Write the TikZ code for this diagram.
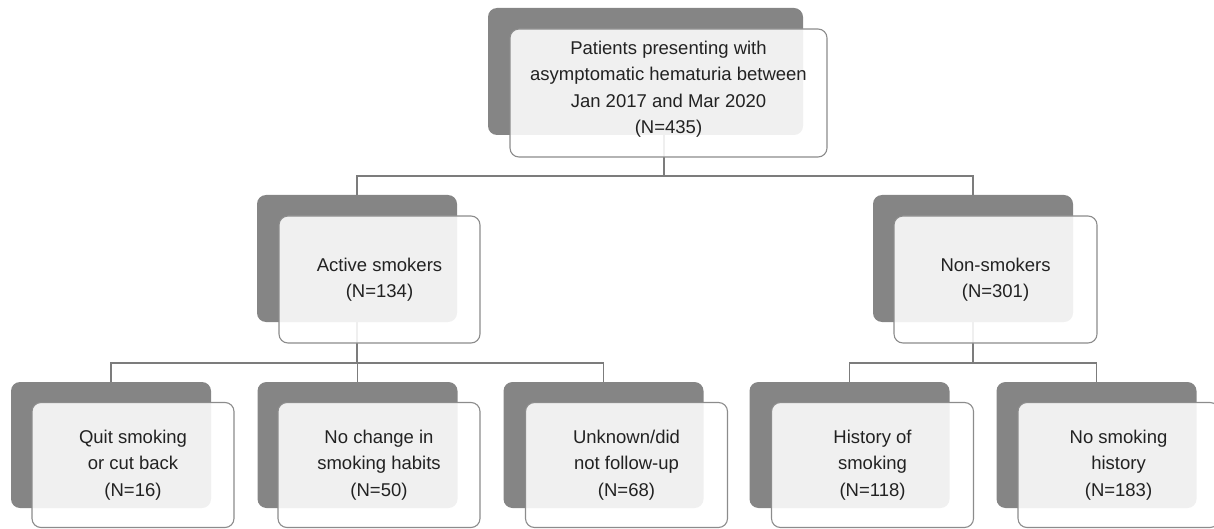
\documentclass[tikz,border=0pt]{standalone}
\usepackage{fontspec}
\setmainfont{Liberation Sans}
\definecolor{darkfill}{HTML}{858585}
\definecolor{frontline}{HTML}{8C8C8C}
\definecolor{connline}{HTML}{7C7C7C}
\definecolor{txt}{HTML}{222222}
\begin{document}
\begin{tikzpicture}[x=1pt,y=-1pt,
  darkbox/.style={rectangle, rounded corners=9pt, fill=darkfill, inner sep=0pt, minimum width=200pt, minimum height=126pt},
  frontbox/.style={rectangle, rounded corners=9pt, fill=white, fill opacity=0.88, text opacity=1, draw=frontline, line width=1.1pt, inner sep=0pt, minimum width=202pt, minimum height=125pt, align=center, text=txt, font=\fontsize{18.5}{26.5}\selectfont},
  conn/.style={draw=connline, line width=1.3pt}]
\useasboundingbox (0,0) rectangle (1214,529);

% junction coordinates
\coordinate (j0) at (664,176);
\coordinate (j1) at (357,363);
\coordinate (j2) at (973,363);

% dark boxes (positions)
\path (645.5,71.5) coordinate (topdc);
\path (357,258.5) coordinate (asdc);
\path (973,258.5) coordinate (nsdc);
\path (111,445) coordinate (qdc);
\path (357.5,445) coordinate (ncdc);
\path (603.5,445) coordinate (undc);
\path (849.5,445) coordinate (hsdc);
\path (1096.5,445) coordinate (nshdc);

% connectors (drawn first, seen through the translucent boxes)
\draw[conn] (j0 |- 0,135) -- (j0);
\draw[conn] (asdc) -- (asdc |- j0) -- (nsdc |- j0) -- (nsdc);
\draw[conn] (asdc) -- (j1);
\draw[conn] (qdc) -- (qdc |- j1) -- (undc |- j1) -- (undc);
\draw[conn] (ncdc |- j1) -- (ncdc);
\draw[conn] (nsdc) -- (j2);
\draw[conn] (hsdc) -- (hsdc |- j2) -- (nshdc |- j2) -- (nshdc);

% dark boxes
\node[darkbox, minimum width=315pt, minimum height=127pt] (topd) at (topdc) {};
\node[darkbox, minimum height=127pt] (asd) at (asdc) {};
\node[darkbox, minimum height=127pt] (nsd) at (nsdc) {};
\node[darkbox] (qd) at (qdc) {};
\node[darkbox] (ncd) at (ncdc) {};
\node[darkbox] (und) at (undc) {};
\node[darkbox] (hsd) at (hsdc) {};
\node[darkbox] (nshd) at (nshdc) {};

% front boxes
\node[frontbox, minimum width=317pt, minimum height=128pt] (top) at (668.5,93) {};
\node[text=txt, align=center, font=\fontsize{18.5}{26.5}\selectfont] (toptext) at (668.5,89) {Patients presenting with\\asymptomatic hematuria between\\Jan 2017 and Mar 2020\\(N=435)};
\node[frontbox, minimum width=201pt, minimum height=127pt] (as) at (379.5,279.5) {Active smokers\\(N=134)};
\node[frontbox, minimum width=203pt, minimum height=127pt] (ns) at (995.5,279.5) {Non-smokers\\(N=301)};
\node[frontbox] (q) at (133,465) {Quit smoking\\or cut back\\(N=16)};
\node[frontbox] (nc) at (379,465) {No change in\\smoking habits\\(N=50)};
\node[frontbox] (un) at (626.5,465) {Unknown/did\\not follow-up\\(N=68)};
\node[frontbox] (hs) at (872.5,465) {History of\\smoking\\(N=118)};
\node[frontbox, minimum width=201pt] (nsh) at (1118.5,465) {No smoking\\history\\(N=183)};
\end{tikzpicture}
\end{document}
